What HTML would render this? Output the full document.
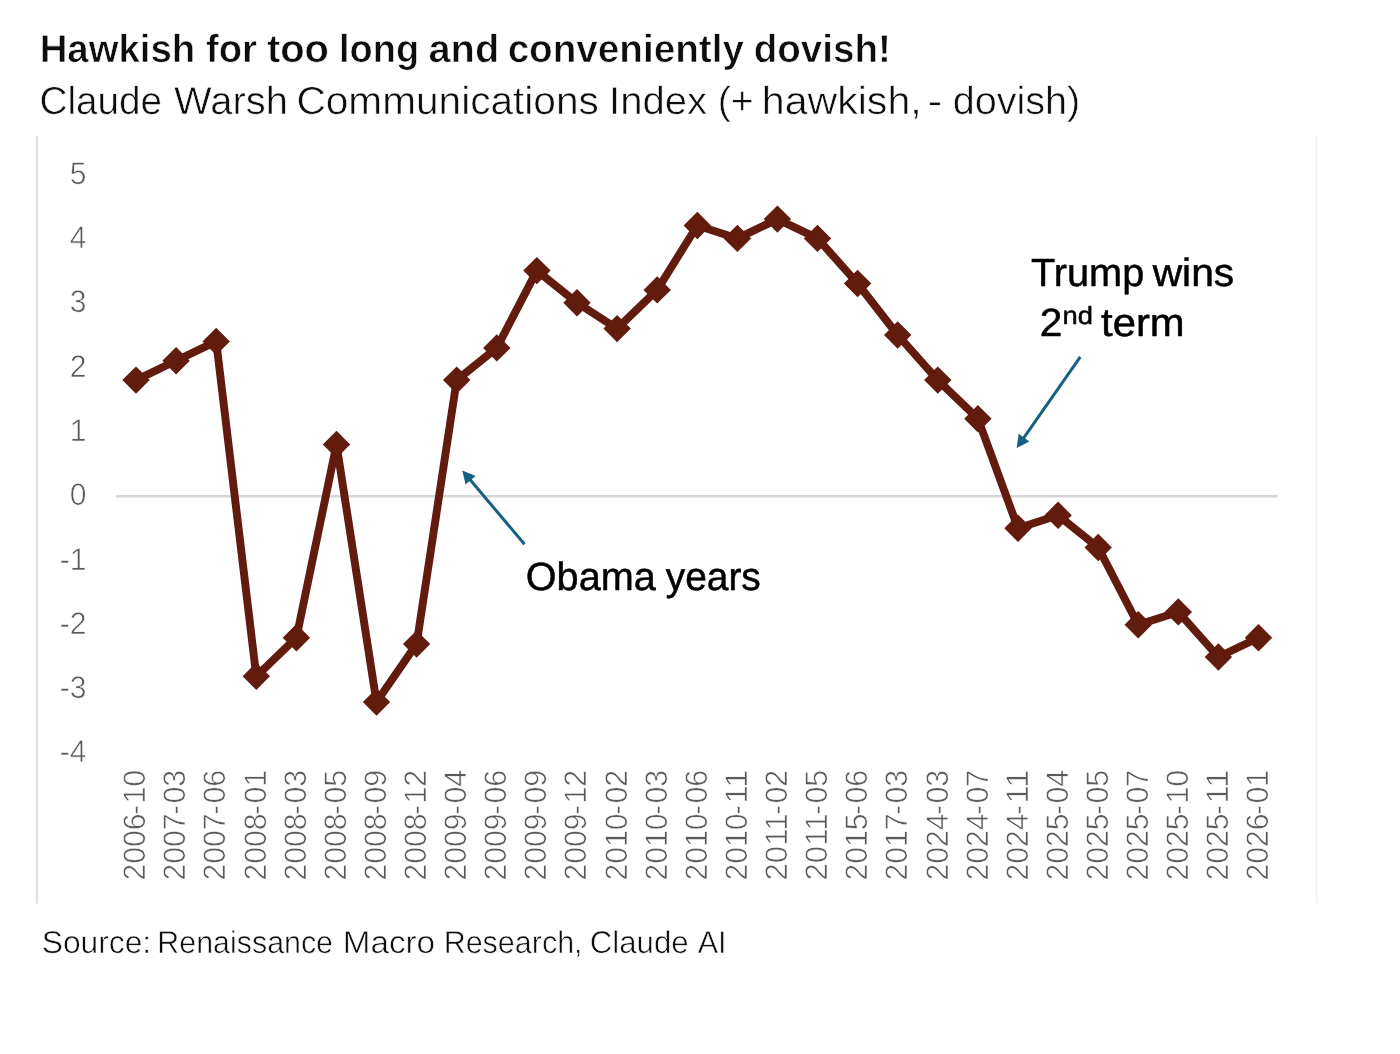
<!DOCTYPE html>
<html lang="en">
<head>
<meta charset="utf-8">
<title>Hawkish for too long and conveniently dovish!</title>
<style>
html,body{margin:0;padding:0;background:#ffffff;}
body{width:1400px;height:1054px;overflow:hidden;font-family:"Liberation Sans",sans-serif;}
svg{display:block;}
text{font-family:"Liberation Sans",sans-serif;text-rendering:geometricPrecision;}
.ax{fill:#5a5a5a;stroke:#ffffff;stroke-width:0.6px;}
.ann{fill:#000000;stroke:#000000;stroke-width:0.5px;}
.thin{stroke:#ffffff;stroke-width:0.55px;}
.tthin{stroke:#ffffff;stroke-width:0.6px;}
</style>
</head>
<body>
<svg width="1400" height="1054" viewBox="0 0 1400 1054">
<defs><filter id="soft" x="0" y="0" width="1400" height="1054" filterUnits="userSpaceOnUse"><feGaussianBlur stdDeviation="0.45"/></filter></defs>
<rect x="0" y="0" width="1400" height="1054" fill="#ffffff"/>
<g filter="url(#soft)">
<text x="39.63" y="61.7" font-size="39.0" font-weight="bold" class="tthin" fill="#111111" textLength="155.57" lengthAdjust="spacingAndGlyphs">Hawkish</text>
<text x="205.94" y="61.7" font-size="39.0" font-weight="bold" class="tthin" fill="#111111" textLength="51.11" lengthAdjust="spacingAndGlyphs">for</text>
<text x="266.91" y="61.7" font-size="39.0" font-weight="bold" class="tthin" fill="#111111" textLength="62.04" lengthAdjust="spacingAndGlyphs">too</text>
<text x="339.08" y="61.7" font-size="39.0" font-weight="bold" class="tthin" fill="#111111" textLength="80.06" lengthAdjust="spacingAndGlyphs">long</text>
<text x="428.50" y="61.7" font-size="39.0" font-weight="bold" class="tthin" fill="#111111" textLength="70.70" lengthAdjust="spacingAndGlyphs">and</text>
<text x="507.63" y="61.7" font-size="39.0" font-weight="bold" class="tthin" fill="#111111" textLength="236.31" lengthAdjust="spacingAndGlyphs">conveniently</text>
<text x="753.63" y="61.7" font-size="39.0" font-weight="bold" class="tthin" fill="#111111" textLength="137.32" lengthAdjust="spacingAndGlyphs">dovish!</text>
<text x="39.50" y="114.4" font-size="39.0" class="thin" fill="#111111" textLength="122.62" lengthAdjust="spacingAndGlyphs">Claude</text>
<text x="174.10" y="114.4" font-size="39.0" class="thin" fill="#111111" textLength="113.80" lengthAdjust="spacingAndGlyphs">Warsh</text>
<text x="296.46" y="114.4" font-size="39.0" class="thin" fill="#111111" textLength="302.37" lengthAdjust="spacingAndGlyphs">Communications</text>
<text x="609.10" y="114.4" font-size="39.0" class="thin" fill="#111111" textLength="98.06" lengthAdjust="spacingAndGlyphs">Index</text>
<text x="717.63" y="114.4" font-size="39.0" class="thin" fill="#111111" textLength="36.01" lengthAdjust="spacingAndGlyphs">(+</text>
<text x="761.84" y="114.4" font-size="39.0" class="thin" fill="#111111" textLength="159.84" lengthAdjust="spacingAndGlyphs">hawkish,</text>
<text x="927.88" y="114.4" font-size="39.0" class="thin" fill="#111111" textLength="14.40" lengthAdjust="spacingAndGlyphs">-</text>
<text x="952.72" y="114.4" font-size="39.0" class="thin" fill="#111111" textLength="127.55" lengthAdjust="spacingAndGlyphs">dovish)</text>
<line x1="36.9" y1="136" x2="36.9" y2="903.5" stroke="#dedede" stroke-width="2"/>
<line x1="1316.5" y1="136" x2="1316.5" y2="903.5" stroke="#f4f4f4" stroke-width="2"/>
<line x1="116" y1="496.2" x2="1277.8" y2="496.2" stroke="#d6d6d6" stroke-width="2.4"/>
<g class="ax">
<text transform="translate(86.6,183.7) scale(0.965,1)" text-anchor="end" font-size="31.2">5</text>
<text transform="translate(86.6,248.0) scale(0.965,1)" text-anchor="end" font-size="31.2">4</text>
<text transform="translate(86.6,312.3) scale(0.965,1)" text-anchor="end" font-size="31.2">3</text>
<text transform="translate(86.6,376.6) scale(0.965,1)" text-anchor="end" font-size="31.2">2</text>
<text transform="translate(86.6,440.9) scale(0.965,1)" text-anchor="end" font-size="31.2">1</text>
<text transform="translate(86.6,505.2) scale(0.965,1)" text-anchor="end" font-size="31.2">0</text>
<text transform="translate(86.6,569.5) scale(0.965,1)" text-anchor="end" font-size="31.2">-1</text>
<text transform="translate(86.6,633.8) scale(0.965,1)" text-anchor="end" font-size="31.2">-2</text>
<text transform="translate(86.6,698.1) scale(0.965,1)" text-anchor="end" font-size="31.2">-3</text>
<text transform="translate(86.6,762.4) scale(0.965,1)" text-anchor="end" font-size="31.2">-4</text>
</g>
<g class="ax" font-size="31.2">
<g transform="translate(145.2,880.5) rotate(-90)"><text x="0" textLength="67.0" lengthAdjust="spacingAndGlyphs">2006</text><text x="66.0" y="0" textLength="9.25" lengthAdjust="spacingAndGlyphs">-</text><text x="76.9" textLength="33.9" lengthAdjust="spacingAndGlyphs">10</text></g>
<g transform="translate(185.3,880.5) rotate(-90)"><text x="0" textLength="67.0" lengthAdjust="spacingAndGlyphs">2007</text><text x="66.0" y="0" textLength="9.25" lengthAdjust="spacingAndGlyphs">-</text><text x="76.9" textLength="33.9" lengthAdjust="spacingAndGlyphs">03</text></g>
<g transform="translate(225.4,880.5) rotate(-90)"><text x="0" textLength="67.0" lengthAdjust="spacingAndGlyphs">2007</text><text x="66.0" y="0" textLength="9.25" lengthAdjust="spacingAndGlyphs">-</text><text x="76.9" textLength="33.9" lengthAdjust="spacingAndGlyphs">06</text></g>
<g transform="translate(265.5,880.5) rotate(-90)"><text x="0" textLength="67.0" lengthAdjust="spacingAndGlyphs">2008</text><text x="66.0" y="0" textLength="9.25" lengthAdjust="spacingAndGlyphs">-</text><text x="76.9" textLength="33.9" lengthAdjust="spacingAndGlyphs">01</text></g>
<g transform="translate(305.6,880.5) rotate(-90)"><text x="0" textLength="67.0" lengthAdjust="spacingAndGlyphs">2008</text><text x="66.0" y="0" textLength="9.25" lengthAdjust="spacingAndGlyphs">-</text><text x="76.9" textLength="33.9" lengthAdjust="spacingAndGlyphs">03</text></g>
<g transform="translate(345.7,880.5) rotate(-90)"><text x="0" textLength="67.0" lengthAdjust="spacingAndGlyphs">2008</text><text x="66.0" y="0" textLength="9.25" lengthAdjust="spacingAndGlyphs">-</text><text x="76.9" textLength="33.9" lengthAdjust="spacingAndGlyphs">05</text></g>
<g transform="translate(385.9,880.5) rotate(-90)"><text x="0" textLength="67.0" lengthAdjust="spacingAndGlyphs">2008</text><text x="66.0" y="0" textLength="9.25" lengthAdjust="spacingAndGlyphs">-</text><text x="76.9" textLength="33.9" lengthAdjust="spacingAndGlyphs">09</text></g>
<g transform="translate(426.0,880.5) rotate(-90)"><text x="0" textLength="67.0" lengthAdjust="spacingAndGlyphs">2008</text><text x="66.0" y="0" textLength="9.25" lengthAdjust="spacingAndGlyphs">-</text><text x="76.9" textLength="33.9" lengthAdjust="spacingAndGlyphs">12</text></g>
<g transform="translate(466.1,880.5) rotate(-90)"><text x="0" textLength="67.0" lengthAdjust="spacingAndGlyphs">2009</text><text x="66.0" y="0" textLength="9.25" lengthAdjust="spacingAndGlyphs">-</text><text x="76.9" textLength="33.9" lengthAdjust="spacingAndGlyphs">04</text></g>
<g transform="translate(506.2,880.5) rotate(-90)"><text x="0" textLength="67.0" lengthAdjust="spacingAndGlyphs">2009</text><text x="66.0" y="0" textLength="9.25" lengthAdjust="spacingAndGlyphs">-</text><text x="76.9" textLength="33.9" lengthAdjust="spacingAndGlyphs">06</text></g>
<g transform="translate(546.3,880.5) rotate(-90)"><text x="0" textLength="67.0" lengthAdjust="spacingAndGlyphs">2009</text><text x="66.0" y="0" textLength="9.25" lengthAdjust="spacingAndGlyphs">-</text><text x="76.9" textLength="33.9" lengthAdjust="spacingAndGlyphs">09</text></g>
<g transform="translate(586.4,880.5) rotate(-90)"><text x="0" textLength="67.0" lengthAdjust="spacingAndGlyphs">2009</text><text x="66.0" y="0" textLength="9.25" lengthAdjust="spacingAndGlyphs">-</text><text x="76.9" textLength="33.9" lengthAdjust="spacingAndGlyphs">12</text></g>
<g transform="translate(626.5,880.5) rotate(-90)"><text x="0" textLength="67.0" lengthAdjust="spacingAndGlyphs">2010</text><text x="66.0" y="0" textLength="9.25" lengthAdjust="spacingAndGlyphs">-</text><text x="76.9" textLength="33.9" lengthAdjust="spacingAndGlyphs">02</text></g>
<g transform="translate(666.7,880.5) rotate(-90)"><text x="0" textLength="67.0" lengthAdjust="spacingAndGlyphs">2010</text><text x="66.0" y="0" textLength="9.25" lengthAdjust="spacingAndGlyphs">-</text><text x="76.9" textLength="33.9" lengthAdjust="spacingAndGlyphs">03</text></g>
<g transform="translate(706.8,880.5) rotate(-90)"><text x="0" textLength="67.0" lengthAdjust="spacingAndGlyphs">2010</text><text x="66.0" y="0" textLength="9.25" lengthAdjust="spacingAndGlyphs">-</text><text x="76.9" textLength="33.9" lengthAdjust="spacingAndGlyphs">06</text></g>
<g transform="translate(746.9,880.5) rotate(-90)"><text x="0" textLength="67.0" lengthAdjust="spacingAndGlyphs">2010</text><text x="66.0" y="0" textLength="9.25" lengthAdjust="spacingAndGlyphs">-</text><text x="76.9" textLength="33.9" lengthAdjust="spacingAndGlyphs">11</text></g>
<g transform="translate(787.0,880.5) rotate(-90)"><text x="0" textLength="67.0" lengthAdjust="spacingAndGlyphs">2011</text><text x="66.0" y="0" textLength="9.25" lengthAdjust="spacingAndGlyphs">-</text><text x="76.9" textLength="33.9" lengthAdjust="spacingAndGlyphs">02</text></g>
<g transform="translate(827.1,880.5) rotate(-90)"><text x="0" textLength="67.0" lengthAdjust="spacingAndGlyphs">2011</text><text x="66.0" y="0" textLength="9.25" lengthAdjust="spacingAndGlyphs">-</text><text x="76.9" textLength="33.9" lengthAdjust="spacingAndGlyphs">05</text></g>
<g transform="translate(867.2,880.5) rotate(-90)"><text x="0" textLength="67.0" lengthAdjust="spacingAndGlyphs">2015</text><text x="66.0" y="0" textLength="9.25" lengthAdjust="spacingAndGlyphs">-</text><text x="76.9" textLength="33.9" lengthAdjust="spacingAndGlyphs">06</text></g>
<g transform="translate(907.4,880.5) rotate(-90)"><text x="0" textLength="67.0" lengthAdjust="spacingAndGlyphs">2017</text><text x="66.0" y="0" textLength="9.25" lengthAdjust="spacingAndGlyphs">-</text><text x="76.9" textLength="33.9" lengthAdjust="spacingAndGlyphs">03</text></g>
<g transform="translate(947.5,880.5) rotate(-90)"><text x="0" textLength="67.0" lengthAdjust="spacingAndGlyphs">2024</text><text x="66.0" y="0" textLength="9.25" lengthAdjust="spacingAndGlyphs">-</text><text x="76.9" textLength="33.9" lengthAdjust="spacingAndGlyphs">03</text></g>
<g transform="translate(987.6,880.5) rotate(-90)"><text x="0" textLength="67.0" lengthAdjust="spacingAndGlyphs">2024</text><text x="66.0" y="0" textLength="9.25" lengthAdjust="spacingAndGlyphs">-</text><text x="76.9" textLength="33.9" lengthAdjust="spacingAndGlyphs">07</text></g>
<g transform="translate(1027.7,880.5) rotate(-90)"><text x="0" textLength="67.0" lengthAdjust="spacingAndGlyphs">2024</text><text x="66.0" y="0" textLength="9.25" lengthAdjust="spacingAndGlyphs">-</text><text x="76.9" textLength="33.9" lengthAdjust="spacingAndGlyphs">11</text></g>
<g transform="translate(1067.8,880.5) rotate(-90)"><text x="0" textLength="67.0" lengthAdjust="spacingAndGlyphs">2025</text><text x="66.0" y="0" textLength="9.25" lengthAdjust="spacingAndGlyphs">-</text><text x="76.9" textLength="33.9" lengthAdjust="spacingAndGlyphs">04</text></g>
<g transform="translate(1107.9,880.5) rotate(-90)"><text x="0" textLength="67.0" lengthAdjust="spacingAndGlyphs">2025</text><text x="66.0" y="0" textLength="9.25" lengthAdjust="spacingAndGlyphs">-</text><text x="76.9" textLength="33.9" lengthAdjust="spacingAndGlyphs">05</text></g>
<g transform="translate(1148.0,880.5) rotate(-90)"><text x="0" textLength="67.0" lengthAdjust="spacingAndGlyphs">2025</text><text x="66.0" y="0" textLength="9.25" lengthAdjust="spacingAndGlyphs">-</text><text x="76.9" textLength="33.9" lengthAdjust="spacingAndGlyphs">07</text></g>
<g transform="translate(1188.2,880.5) rotate(-90)"><text x="0" textLength="67.0" lengthAdjust="spacingAndGlyphs">2025</text><text x="66.0" y="0" textLength="9.25" lengthAdjust="spacingAndGlyphs">-</text><text x="76.9" textLength="33.9" lengthAdjust="spacingAndGlyphs">10</text></g>
<g transform="translate(1228.3,880.5) rotate(-90)"><text x="0" textLength="67.0" lengthAdjust="spacingAndGlyphs">2025</text><text x="66.0" y="0" textLength="9.25" lengthAdjust="spacingAndGlyphs">-</text><text x="76.9" textLength="33.9" lengthAdjust="spacingAndGlyphs">11</text></g>
<g transform="translate(1268.4,880.5) rotate(-90)"><text x="0" textLength="67.0" lengthAdjust="spacingAndGlyphs">2026</text><text x="66.0" y="0" textLength="9.25" lengthAdjust="spacingAndGlyphs">-</text><text x="76.9" textLength="33.9" lengthAdjust="spacingAndGlyphs">01</text></g>
</g>
<polyline points="136.0,380.1 176.1,360.8 216.2,341.4 256.3,676.3 296.4,637.7 336.5,444.5 376.5,702.1 416.6,644.1 456.7,380.1 496.8,347.9 536.9,270.6 577.0,302.8 617.1,328.6 657.2,289.9 697.3,225.5 737.4,238.4 777.4,219.1 817.5,238.4 857.6,283.5 897.7,335.0 937.8,380.1 977.9,418.7 1018.0,528.2 1058.1,515.3 1098.2,547.5 1138.2,624.8 1178.3,611.9 1218.4,657.0 1258.5,637.7" fill="none" stroke="#621a0c" stroke-width="7.9" stroke-linejoin="round" stroke-linecap="round"/>
<g fill="#621a0c">
<path d="M136.0 366.4L149.7 380.1L136.0 393.8L122.3 380.1Z"/>
<path d="M176.1 347.1L189.8 360.8L176.1 374.5L162.4 360.8Z"/>
<path d="M216.2 327.7L229.9 341.4L216.2 355.1L202.5 341.4Z"/>
<path d="M256.3 662.6L270.0 676.3L256.3 690.0L242.6 676.3Z"/>
<path d="M296.4 624.0L310.1 637.7L296.4 651.4L282.7 637.7Z"/>
<path d="M336.5 430.8L350.2 444.5L336.5 458.2L322.8 444.5Z"/>
<path d="M376.5 688.4L390.2 702.1L376.5 715.8L362.8 702.1Z"/>
<path d="M416.6 630.4L430.3 644.1L416.6 657.8L402.9 644.1Z"/>
<path d="M456.7 366.4L470.4 380.1L456.7 393.8L443.0 380.1Z"/>
<path d="M496.8 334.2L510.5 347.9L496.8 361.6L483.1 347.9Z"/>
<path d="M536.9 256.9L550.6 270.6L536.9 284.3L523.2 270.6Z"/>
<path d="M577.0 289.1L590.7 302.8L577.0 316.5L563.3 302.8Z"/>
<path d="M617.1 314.9L630.8 328.6L617.1 342.3L603.4 328.6Z"/>
<path d="M657.2 276.2L670.9 289.9L657.2 303.6L643.5 289.9Z"/>
<path d="M697.3 211.8L711.0 225.5L697.3 239.2L683.6 225.5Z"/>
<path d="M737.4 224.7L751.1 238.4L737.4 252.1L723.6 238.4Z"/>
<path d="M777.4 205.4L791.1 219.1L777.4 232.8L763.7 219.1Z"/>
<path d="M817.5 224.7L831.2 238.4L817.5 252.1L803.8 238.4Z"/>
<path d="M857.6 269.8L871.3 283.5L857.6 297.2L843.9 283.5Z"/>
<path d="M897.7 321.3L911.4 335.0L897.7 348.7L884.0 335.0Z"/>
<path d="M937.8 366.4L951.5 380.1L937.8 393.8L924.1 380.1Z"/>
<path d="M977.9 405.0L991.6 418.7L977.9 432.4L964.2 418.7Z"/>
<path d="M1018.0 514.5L1031.7 528.2L1018.0 541.9L1004.3 528.2Z"/>
<path d="M1058.1 501.6L1071.8 515.3L1058.1 529.0L1044.4 515.3Z"/>
<path d="M1098.2 533.8L1111.9 547.5L1098.2 561.2L1084.5 547.5Z"/>
<path d="M1138.2 611.1L1152.0 624.8L1138.2 638.5L1124.5 624.8Z"/>
<path d="M1178.3 598.2L1192.0 611.9L1178.3 625.6L1164.6 611.9Z"/>
<path d="M1218.4 643.3L1232.1 657.0L1218.4 670.7L1204.7 657.0Z"/>
<path d="M1258.5 624.0L1272.2 637.7L1258.5 651.4L1244.8 637.7Z"/>
</g>
<line x1="1080.3" y1="356.9" x2="1022.9" y2="439.2" stroke="#156082" stroke-width="3.0"/>
<path d="M1016.7 448.1L1018.6 433.8L1029.4 441.4Z" fill="#156082"/>
<line x1="524.5" y1="544.2" x2="469.3" y2="478.8" stroke="#156082" stroke-width="3.0"/>
<path d="M462.3 470.6L475.6 476.1L465.5 484.6Z" fill="#156082"/>
<g class="ann" font-size="39.4">
<text x="1031.03" y="285.6" font-size="39.4"  textLength="113.25" lengthAdjust="spacingAndGlyphs">Trump</text>
<text x="1152.70" y="285.6" font-size="39.4"  textLength="81.54" lengthAdjust="spacingAndGlyphs">wins</text>
<text x="1039.78" y="335.9" font-size="39.4"  textLength="22.60" lengthAdjust="spacingAndGlyphs">2</text>
<text x="1062.50" y="323.6" font-size="25.0"  textLength="30.38" lengthAdjust="spacingAndGlyphs">nd</text>
<text x="1101.06" y="335.9" font-size="39.4"  textLength="83.59" lengthAdjust="spacingAndGlyphs">term</text>
<text x="525.82" y="589.8" font-size="39.4"  textLength="129.90" lengthAdjust="spacingAndGlyphs">Obama</text>
<text x="665.75" y="589.8" font-size="39.4"  textLength="95.06" lengthAdjust="spacingAndGlyphs">years</text>
</g>
<text x="41.77" y="953.2" font-size="31.5" class="thin" fill="#111111" textLength="109.42" lengthAdjust="spacingAndGlyphs">Source:</text>
<text x="157.36" y="953.2" font-size="31.5" class="thin" fill="#111111" textLength="175.65" lengthAdjust="spacingAndGlyphs">Renaissance</text>
<text x="342.75" y="953.2" font-size="31.5" class="thin" fill="#111111" textLength="92.37" lengthAdjust="spacingAndGlyphs">Macro</text>
<text x="443.68" y="953.2" font-size="31.5" class="thin" fill="#111111" textLength="138.89" lengthAdjust="spacingAndGlyphs">Research,</text>
<text x="589.71" y="953.2" font-size="31.5" class="thin" fill="#111111" textLength="98.92" lengthAdjust="spacingAndGlyphs">Claude</text>
<text x="697.74" y="953.2" font-size="31.5" class="thin" fill="#111111" textLength="28.82" lengthAdjust="spacingAndGlyphs">AI</text>
</g>
</svg>
</body>
</html>
